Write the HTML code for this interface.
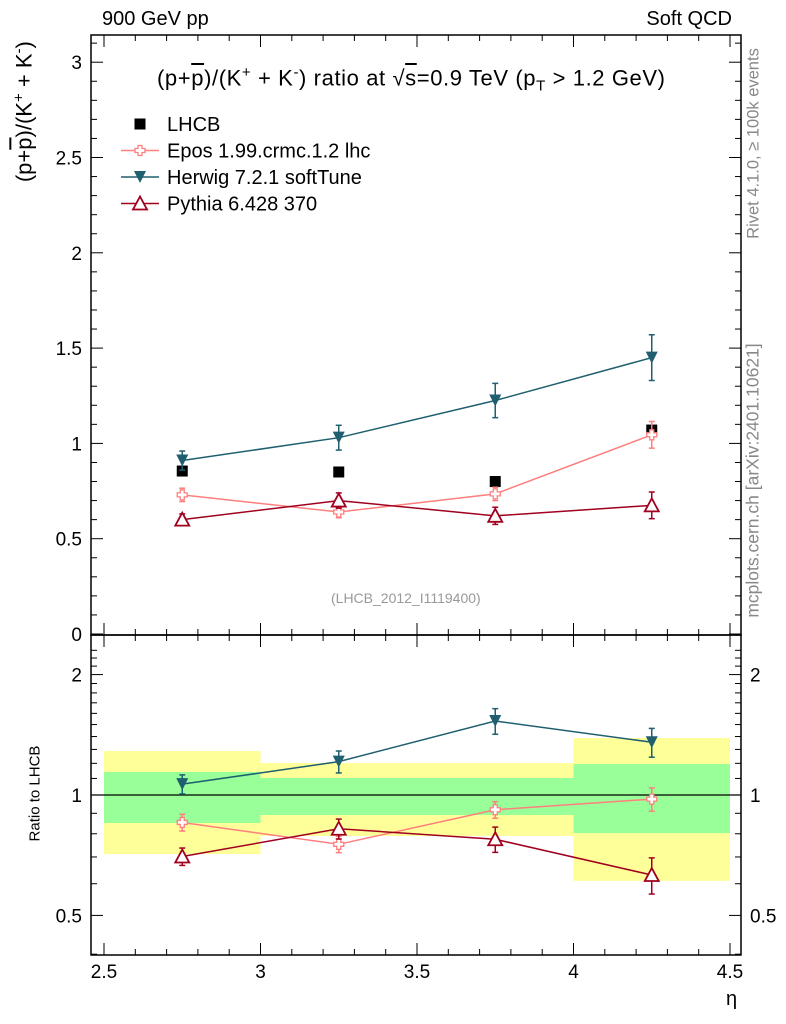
<!DOCTYPE html>
<html><head><meta charset="utf-8"><style>
body{margin:0;background:#fff}
svg{display:block;font-family:"Liberation Sans",sans-serif}
</style></head><body>
<svg id="c" width="786" height="1024" xmlns="http://www.w3.org/2000/svg"></svg>
<script>
const etaCenters=[2.75,3.25,3.75,4.25];
const binEdges=[[2.5,3],[3,3.5],[3.5,4],[4,4.5]];
const lhcbVals=[0.855,0.85,0.80,1.07];
const eposVals=[0.73,0.64,0.735,1.045];
const eposErr=[0.035,0.03,0.035,0.07];
const herwigVals=[0.91,1.03,1.225,1.45];
const herwigErr=[0.05,0.065,0.09,0.12];
const pythiaVals=[0.60,0.70,0.62,0.675];
const pythiaErr=[0.03,0.04,0.045,0.07];
const bandTotLo=[0.712,0.79,0.79,0.61];
const bandTotHi=[1.288,1.202,1.202,1.388];
const bandStatLo=[0.851,0.891,0.891,0.803];
const bandStatHi=[1.142,1.103,1.103,1.195];
const xTicks=[2.5,3,3.5,4,4.5];
const xTickLabels=["2.5","3","3.5","4","4.5"];
const yTicks=[0,0.5,1,1.5,2,2.5,3];
const yTickLabels=["0","0.5","1","1.5","2","2.5","3"];
const rTicks=[0.5,1,2];
const rTickLabels=["0.5","1","2"];

const S=document.getElementById('c');const NS="http://www.w3.org/2000/svg";
function el(t,a,p){const e=document.createElementNS(NS,t);for(const k in a)e.setAttribute(k,a[k]);(p||S).appendChild(e);return e;}
const L=91,R=741,T=35,M=635,B=955;
const X=v=>104+(v-2.5)*313;
const Y=v=>634-v*190.6;
const RY=v=>795-400*Math.log10(v);

binEdges.forEach((b,i)=>{
 let r=el('rect',{x:X(b[0]),y:RY(bandTotHi[i]),width:X(b[1])-X(b[0]),height:RY(bandTotLo[i])-RY(bandTotHi[i]),fill:'#ffff99'});
 
 r=el('rect',{x:X(b[0]),y:RY(bandStatHi[i]),width:X(b[1])-X(b[0]),height:RY(bandStatLo[i])-RY(bandStatHi[i]),fill:'#99ff99'});
 
});
el('line',{x1:L,x2:R,y1:RY(1),y2:RY(1),stroke:'#000','stroke-width':1.3});

let f=el('rect',{x:L,y:T,width:R-L,height:M-T,fill:'none',stroke:'#000','stroke-width':1.5});

f=el('rect',{x:L,y:M,width:R-L,height:B-M,fill:'none',stroke:'#000','stroke-width':1.5});


for(let v=2.5;v<=4.501;v+=0.1){const maj=Math.abs(v*2-Math.round(v*2))<1e-6;const x=X(v);const l=maj?12:6;
 [[T,T+l],[M,M-l],[M,M+l],[B,B-l]].forEach(a=>el('line',{x1:x,x2:x,y1:a[0],y2:a[1],stroke:'#000','stroke-width':1}));}
xTicks.forEach((v,i)=>{const t=el('text',{x:X(v),y:978,'text-anchor':'middle','font-size':19});t.textContent=xTickLabels[i];
 });
for(let v=0;v<=3.101;v+=0.1){const maj=Math.abs(v*2-Math.round(v*2))<1e-6;const y=Y(v);const l=maj?12:6;
 el('line',{x1:L,x2:L+l,y1:y,y2:y,stroke:'#000'});el('line',{x1:R,x2:R-l,y1:y,y2:y,stroke:'#000'});}
yTicks.forEach((v,i)=>{const t=el('text',{x:82,y:Y(v)+7,'text-anchor':'end','font-size':19});t.textContent=yTickLabels[i];
 });
for(let v=0.4;v<=2.4;v+=0.1){const y=RY(v);if(y<M||y>B)continue;const maj=rTicks.some(t=>Math.abs(t-v)<1e-6);const l=maj?12:6;
 el('line',{x1:L,x2:L+l,y1:y,y2:y,stroke:'#000'});el('line',{x1:R,x2:R-l,y1:y,y2:y,stroke:'#000'});}
rTicks.forEach((v,i)=>{let t=el('text',{x:82,y:RY(v)+7,'text-anchor':'end','font-size':19});t.textContent=rTickLabels[i];
 
 t=el('text',{x:750,y:RY(v)+7,'font-size':19});t.textContent=rTickLabels[i];
 });

function marker(kind,x,y,col,g){
 if(kind==='sq')el('rect',{x:x-5.5,y:y-5.5,width:11,height:11,fill:'#000'},g);
 else if(kind==='tri-down')el('polygon',{points:`${x-6},${y-6} ${x+6},${y-6} ${x},${y+6}`,fill:col},g);
 else if(kind==='tri-up')el('polygon',{points:`${x-7},${y+6} ${x+7},${y+6} ${x},${y-7}`,fill:'#fff',stroke:col,'stroke-width':1.8},g);
 else if(kind==='cross')el('path',{d:`M${x-2},${y-5}h4v3h3v4h-3v3h-4v-3h-3v-4h3z`,fill:'#fff',stroke:col,'stroke-width':1.3},g);
}
function series(name,vals,errs,col,kind,ratio){
 const g=el('g',{});
 const yf=ratio?(v=>RY(v)):Y;
 const vv=vals.map((v,i)=>ratio?v/lhcbVals[i]:v);
 const ee=errs?errs.map((e,i)=>ratio?e/lhcbVals[i]:e):null;
 if(kind!=='sq')el('polyline',{points:etaCenters.map((c,i)=>X(c)+','+yf(vv[i])).join(' '),fill:'none',stroke:col,'stroke-width':1.5},g);
 etaCenters.forEach((c,i)=>{const x=X(c);
  if(ee){const y1=yf(vv[i]-ee[i]),y2=yf(vv[i]+ee[i]);
   el('line',{x1:x,x2:x,y1:y1,y2:y2,stroke:col,'stroke-width':1.5},g);
   el('line',{x1:x-3,x2:x+3,y1:y1,y2:y1,stroke:col,'stroke-width':1.5},g);
   el('line',{x1:x-3,x2:x+3,y1:y2,y2:y2,stroke:col,'stroke-width':1.5},g);}
  marker(kind,x,yf(vv[i]),col,g);});
}
series('lhcb',lhcbVals,null,'#000','sq',false);
series('epos',eposVals,eposErr,'#ff7f7f','cross',false);
series('herwig',herwigVals,herwigErr,'#1f5f6f','tri-down',false);
series('pythia',pythiaVals,pythiaErr,'#a0001f','tri-up',false);
series('epos',eposVals,eposErr,'#ff7f7f','cross',true);
series('herwig',herwigVals,herwigErr,'#1f5f6f','tri-down',true);
series('pythia',pythiaVals,pythiaErr,'#a0001f','tri-up',true);

const leg=[['LHCB','#000','sq'],['Epos 1.99.crmc.1.2 lhc','#ff7f7f','cross'],['Herwig 7.2.1 softTune','#1f5f6f','tri-down'],['Pythia 6.428 370','#a0001f','tri-up']];
leg.forEach((d,i)=>{const y=124+i*26.5;const g=el('g',{});
 if(d[2]!=='sq')el('line',{x1:121,x2:159,y1:y,y2:y,stroke:d[1],'stroke-width':1.5},g);
 marker(d[2],140,y,d[1],g);
 const t=el('text',{x:167,y:y+7,'font-size':20},g);t.textContent=d[0];});
</script>
<div style="position:absolute;left:0;top:0;width:786px;height:1024px;font-family:'Liberation Sans',sans-serif;pointer-events:none">
<div style="position:absolute;left:102px;top:8px;font-size:20px">900 GeV pp</div>
<div style="position:absolute;right:54px;top:8px;font-size:20px">Soft QCD</div>
<div style="position:absolute;left:157px;top:64px;font-size:22px;letter-spacing:0.6px;white-space:nowrap">(p+<span style="text-decoration:overline">p</span>)/(K<sup style="font-size:15px">+</sup> + K<sup style="font-size:15px">-</sup>) ratio at √<span style="text-decoration:overline">s</span>=0.9 TeV (p<sub style="font-size:15px">T</sub> &gt; 1.2 GeV)</div>
<div style="position:absolute;left:-106px;top:98px;width:260px;transform:rotate(-90deg);transform-origin:center;text-align:center;font-size:22px;white-space:nowrap">(p+<span style="text-decoration:overline">p</span>)/(K<sup style="font-size:15px">+</sup> + K<sup style="font-size:15px">-</sup>)</div>
<div style="position:absolute;left:-25px;top:785px;width:120px;transform:rotate(-90deg);text-align:center;font-size:15px;white-space:nowrap">Ratio to LHCB</div>
<div style="position:absolute;left:726px;top:988px;font-size:20px">η</div>
<div style="position:absolute;left:331px;top:590px;font-size:14px;color:#999">(LHCB_2012_I1119400)</div>
<div style="position:absolute;left:644px;top:134px;width:220px;transform:rotate(-90deg);text-align:center;font-size:16.5px;color:#888;white-space:nowrap">Rivet 4.1.0, ≥ 100k events</div>
<div style="position:absolute;left:593px;top:470px;width:320px;transform:rotate(-90deg);text-align:center;font-size:17.5px;color:#888;white-space:nowrap">mcplots.cern.ch [arXiv:2401.10621]</div>
</div>
</body></html>
